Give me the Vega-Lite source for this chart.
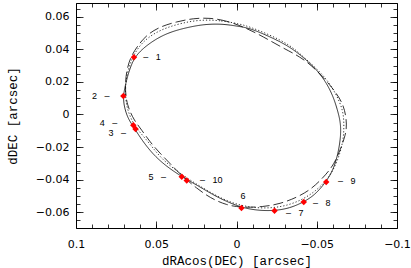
{
  "$schema": "https://vega.github.io/schema/vega-lite/v6.json",
  "width": 321,
  "height": 225,
  "autosize": {"type": "none"},
  "padding": {"left": 76, "top": 3, "right": 14, "bottom": 40},
  "background": "white",
  "config": {
    "view": {"stroke": "black", "strokeWidth": 1},
    "axis": {
      "grid": false, "domain": false, "tickColor": "black", "tickWidth": 0.8,
      "labelColor": "black", "labelFont": "DejaVu Sans", "labelFontSize": 11,
      "titleFont": "Liberation Mono", "titleFontSize": 12.5, "titleFontWeight": "normal", "titleColor": "black",
      "labelFlush": false, "labelOverlap": false
    }
  },
  "datasets": {
    "curves": [
      {"c":"solid","i":0,"x":-0.0022,"y":0.0539},{"c":"solid","i":1,"x":0.0040,"y":0.0549},{"c":"solid","i":2,"x":0.0103,"y":0.0555},{"c":"solid","i":3,"x":0.0165,"y":0.0554},{"c":"solid","i":4,"x":0.0227,"y":0.0549},{"c":"solid","i":5,"x":0.0331,"y":0.0529},{"c":"solid","i":6,"x":0.0435,"y":0.0498},{"c":"solid","i":7,"x":0.0518,"y":0.0453},{"c":"solid","i":8,"x":0.0581,"y":0.0406},{"c":"solid","i":9,"x":0.0622,"y":0.0365},{"c":"solid","i":10,"x":0.0653,"y":0.0314},{"c":"solid","i":11,"x":0.0680,"y":0.0232},{"c":"solid","i":12,"x":0.0699,"y":0.0150},{"c":"solid","i":13,"x":0.0705,"y":0.0107},{"c":"solid","i":14,"x":0.0701,"y":0.0058},{"c":"solid","i":15,"x":0.0688,"y":0.0009},{"c":"solid","i":16,"x":0.0670,"y":-0.0034},{"c":"solid","i":17,"x":0.0643,"y":-0.0074},{"c":"solid","i":18,"x":0.0591,"y":-0.0156},{"c":"solid","i":19,"x":0.0518,"y":-0.0248},{"c":"solid","i":20,"x":0.0435,"y":-0.0320},{"c":"solid","i":21,"x":0.0341,"y":-0.0382},{"c":"solid","i":22,"x":0.0248,"y":-0.0433},{"c":"solid","i":23,"x":0.0145,"y":-0.0494},{"c":"solid","i":24,"x":0.0061,"y":-0.0535},{"c":"solid","i":25,"x":-0.0032,"y":-0.0571},{"c":"solid","i":26,"x":-0.0126,"y":-0.0589},{"c":"solid","i":27,"x":-0.0236,"y":-0.0592},{"c":"solid","i":28,"x":-0.0333,"y":-0.0575},{"c":"solid","i":29,"x":-0.0416,"y":-0.0539},{"c":"solid","i":30,"x":-0.0489,"y":-0.0494},{"c":"solid","i":31,"x":-0.0558,"y":-0.0414},{"c":"solid","i":32,"x":-0.0603,"y":-0.0340},{"c":"solid","i":33,"x":-0.0634,"y":-0.0238},{"c":"solid","i":34,"x":-0.0651,"y":-0.0126},{"c":"solid","i":35,"x":-0.0648,"y":-0.0046},{"c":"solid","i":36,"x":-0.0629,"y":0.0028},{"c":"solid","i":37,"x":-0.0603,"y":0.0109},{"c":"solid","i":38,"x":-0.0562,"y":0.0191},{"c":"solid","i":39,"x":-0.0510,"y":0.0263},{"c":"solid","i":40,"x":-0.0437,"y":0.0334},{"c":"solid","i":41,"x":-0.0333,"y":0.0416},{"c":"solid","i":42,"x":-0.0209,"y":0.0477},{"c":"solid","i":43,"x":-0.0084,"y":0.0529},
      {"c":"dashed","i":0,"x":-0.0053,"y":0.0534},{"c":"dashed","i":1,"x":0.0061,"y":0.0575},{"c":"dashed","i":2,"x":0.0165,"y":0.0593},{"c":"dashed","i":3,"x":0.0269,"y":0.0590},{"c":"dashed","i":4,"x":0.0373,"y":0.0569},{"c":"dashed","i":5,"x":0.0477,"y":0.0539},{"c":"dashed","i":6,"x":0.0560,"y":0.0488},{"c":"dashed","i":7,"x":0.0612,"y":0.0426},{"c":"dashed","i":8,"x":0.0653,"y":0.0365},{"c":"dashed","i":9,"x":0.0680,"y":0.0293},{"c":"dashed","i":10,"x":0.0695,"y":0.0191},{"c":"dashed","i":11,"x":0.0688,"y":0.0089},{"c":"dashed","i":12,"x":0.0668,"y":0.0028},{"c":"dashed","i":13,"x":0.0639,"y":-0.0034},{"c":"dashed","i":14,"x":0.0591,"y":-0.0095},{"c":"dashed","i":15,"x":0.0539,"y":-0.0169},{"c":"dashed","i":16,"x":0.0477,"y":-0.0238},{"c":"dashed","i":17,"x":0.0414,"y":-0.0301},{"c":"dashed","i":18,"x":0.0341,"y":-0.0377},{"c":"dashed","i":19,"x":0.0248,"y":-0.0453},{"c":"dashed","i":20,"x":0.0165,"y":-0.0512},{"c":"dashed","i":21,"x":0.0061,"y":-0.0558},{"c":"dashed","i":22,"x":-0.0042,"y":-0.0572},{"c":"dashed","i":23,"x":-0.0167,"y":-0.0567},{"c":"dashed","i":24,"x":-0.0271,"y":-0.0549},{"c":"dashed","i":25,"x":-0.0377,"y":-0.0509},{"c":"dashed","i":26,"x":-0.0458,"y":-0.0463},{"c":"dashed","i":27,"x":-0.0520,"y":-0.0408},{"c":"dashed","i":28,"x":-0.0583,"y":-0.0340},{"c":"dashed","i":29,"x":-0.0620,"y":-0.0279},{"c":"dashed","i":30,"x":-0.0651,"y":-0.0206},{"c":"dashed","i":31,"x":-0.0679,"y":-0.0126},{"c":"dashed","i":32,"x":-0.0688,"y":-0.0064},{"c":"dashed","i":33,"x":-0.0676,"y":0.0028},{"c":"dashed","i":34,"x":-0.0645,"y":0.0099},{"c":"dashed","i":35,"x":-0.0583,"y":0.0181},{"c":"dashed","i":36,"x":-0.0489,"y":0.0283},{"c":"dashed","i":37,"x":-0.0396,"y":0.0355},{"c":"dashed","i":38,"x":-0.0292,"y":0.0406},{"c":"dashed","i":39,"x":-0.0167,"y":0.0477},
      {"c":"dotted","i":0,"x":-0.0022,"y":0.0555},{"c":"dotted","i":1,"x":0.0103,"y":0.0578},{"c":"dotted","i":2,"x":0.0227,"y":0.0581},{"c":"dotted","i":3,"x":0.0331,"y":0.0563},{"c":"dotted","i":4,"x":0.0435,"y":0.0534},{"c":"dotted","i":5,"x":0.0520,"y":0.0494},{"c":"dotted","i":6,"x":0.0583,"y":0.0445},{"c":"dotted","i":7,"x":0.0626,"y":0.0390},{"c":"dotted","i":8,"x":0.0657,"y":0.0328},{"c":"dotted","i":9,"x":0.0679,"y":0.0261},{"c":"dotted","i":10,"x":0.0692,"y":0.0181},{"c":"dotted","i":11,"x":0.0692,"y":0.0107},{"c":"dotted","i":12,"x":0.0682,"y":0.0040},{"c":"dotted","i":13,"x":0.0660,"y":-0.0021},{"c":"dotted","i":14,"x":0.0626,"y":-0.0083},{"c":"dotted","i":15,"x":0.0560,"y":-0.0156},{"c":"dotted","i":16,"x":0.0502,"y":-0.0230},{"c":"dotted","i":17,"x":0.0445,"y":-0.0291},{"c":"dotted","i":18,"x":0.0364,"y":-0.0353},{"c":"dotted","i":19,"x":0.0277,"y":-0.0411},{"c":"dotted","i":20,"x":0.0184,"y":-0.0466},{"c":"dotted","i":21,"x":0.0090,"y":-0.0518},{"c":"dotted","i":22,"x":-0.0009,"y":-0.0555},{"c":"dotted","i":23,"x":-0.0115,"y":-0.0574},{"c":"dotted","i":24,"x":-0.0221,"y":-0.0575},{"c":"dotted","i":25,"x":-0.0321,"y":-0.0558},{"c":"dotted","i":26,"x":-0.0414,"y":-0.0521},{"c":"dotted","i":27,"x":-0.0495,"y":-0.0469},{"c":"dotted","i":28,"x":-0.0564,"y":-0.0402},{"c":"dotted","i":29,"x":-0.0614,"y":-0.0322},{"c":"dotted","i":30,"x":-0.0648,"y":-0.0230},{"c":"dotted","i":31,"x":-0.0667,"y":-0.0144},{"c":"dotted","i":32,"x":-0.0670,"y":-0.0064},{"c":"dotted","i":33,"x":-0.0665,"y":0.0028},{"c":"dotted","i":34,"x":-0.0614,"y":0.0138},{"c":"dotted","i":35,"x":-0.0564,"y":0.0212},{"c":"dotted","i":36,"x":-0.0508,"y":0.0273},{"c":"dotted","i":37,"x":-0.0408,"y":0.0362},{"c":"dotted","i":38,"x":-0.0333,"y":0.0426},{"c":"dotted","i":39,"x":-0.0209,"y":0.0488},{"c":"dotted","i":40,"x":-0.0084,"y":0.0537}
    ],
    "pts": [
      {"n":1,"x":0.0639,"y":0.0351,"lx":0.0581,"ly":0.0351,"t":"\u2013\u00a0\u00a0\u00a01"},
      {"n":2,"x":0.0705,"y":0.0113,"lx":0.0791,"ly":0.0113,"t":"2\u00a0\u00a0\u00a0\u2013"},
      {"n":3,"x":0.0629,"y":-0.0089,"lx":0.0688,"ly":-0.0115,"t":"3\u00a0\u00a0\u00a0\u2013"},
      {"n":4,"x":0.0643,"y":-0.0066,"lx":0.0743,"ly":-0.0054,"t":"4\u00a0\u00a0\u00a0\u2013"},
      {"n":5,"x":0.0341,"y":-0.0382,"lx":0.0439,"ly":-0.0382,"t":"5\u00a0\u00a0\u00a0\u2013"},
      {"n":6,"x":-0.0031,"y":-0.0574,"lx":-0.0040,"ly":-0.0502,"t":"6"},
      {"n":7,"x":-0.0237,"y":-0.0591,"lx":-0.0308,"ly":-0.0602,"t":"\u2013\u00a0\u00a0\u00a07"},
      {"n":8,"x":-0.0419,"y":-0.0538,"lx":-0.0477,"ly":-0.0541,"t":"\u2013\u00a0\u00a0\u00a08"},
      {"n":9,"x":-0.0559,"y":-0.0414,"lx":-0.0632,"ly":-0.0410,"t":"\u2013\u00a0\u00a0\u00a09"},
      {"n":10,"x":0.0310,"y":-0.0406,"lx":0.0227,"ly":-0.0402,"t":"\u2013\u00a0\u00a0\u00a010"}
    ]
  },
  "layer": [
    {
      "data": {"name": "pts"},
      "mark": {"type": "point", "opacity": 0},
      "encoding": {
        "x": {"field": "x", "type": "quantitative", "scale": {"domain": [-0.1, 0.1], "reverse": true, "nice": false, "zero": false},
          "axis": {"orient": "bottom", "values": [0.1, 0.05, 0, -0.05, -0.1], "tickSize": -7, "labelPadding": 17, "format": "~g", "title": "dRAcos(DEC) [arcsec]", "titlePadding": 5}},
        "y": {"field": "y", "type": "quantitative", "scale": {"domain": [-0.0697, 0.0684], "nice": false, "zero": false},
          "axis": {"orient": "left", "values": [-0.06, -0.04, -0.02, 0, 0.02, 0.04, 0.06], "tickSize": -7, "labelPadding": 14, "format": "~g", "title": "dDEC [arcsec]", "titlePadding": 16}}
      }
    },
    {
      "data": {"name": "pts"},
      "mark": {"type": "point", "opacity": 0},
      "encoding": {
        "x": {"field": "x", "type": "quantitative", "scale": {"domain": [-0.1, 0.1], "reverse": true, "nice": false, "zero": false},
          "axis": {"orient": "bottom", "values": [-0.1,-0.09,-0.08,-0.07,-0.06,-0.05,-0.04,-0.03,-0.02,-0.01,0,0.01,0.02,0.03,0.04,0.05,0.06,0.07,0.08,0.09,0.1], "tickSize": -4, "labels": false, "title": null}},
        "y": {"field": "y", "type": "quantitative", "scale": {"domain": [-0.0697, 0.0684], "nice": false, "zero": false},
          "axis": {"orient": "left", "values": [-0.065,-0.06,-0.055,-0.05,-0.045,-0.04,-0.035,-0.03,-0.025,-0.02,-0.015,-0.01,-0.005,0,0.005,0.01,0.015,0.02,0.025,0.03,0.035,0.04,0.045,0.05,0.055,0.06,0.065], "tickSize": -4, "labels": false, "title": null}}
      }
    },
    {
      "data": {"name": "pts"},
      "mark": {"type": "point", "opacity": 0},
      "encoding": {
        "x": {"field": "x", "type": "quantitative", "scale": {"domain": [-0.1, 0.1], "reverse": true, "nice": false, "zero": false},
          "axis": {"orient": "top", "values": [0.1, 0.05, 0, -0.05, -0.1], "tickSize": -7, "labels": false, "title": null}},
        "y": {"field": "y", "type": "quantitative", "scale": {"domain": [-0.0697, 0.0684], "nice": false, "zero": false},
          "axis": {"orient": "right", "values": [-0.06, -0.04, -0.02, 0, 0.02, 0.04, 0.06], "tickSize": -7, "labels": false, "title": null}}
      }
    },
    {
      "data": {"name": "pts"},
      "mark": {"type": "point", "opacity": 0},
      "encoding": {
        "x": {"field": "x", "type": "quantitative", "scale": {"domain": [-0.1, 0.1], "reverse": true, "nice": false, "zero": false},
          "axis": {"orient": "top", "values": [-0.1,-0.09,-0.08,-0.07,-0.06,-0.05,-0.04,-0.03,-0.02,-0.01,0,0.01,0.02,0.03,0.04,0.05,0.06,0.07,0.08,0.09,0.1], "tickSize": -4, "labels": false, "title": null}},
        "y": {"field": "y", "type": "quantitative", "scale": {"domain": [-0.0697, 0.0684], "nice": false, "zero": false},
          "axis": {"orient": "right", "values": [-0.065,-0.06,-0.055,-0.05,-0.045,-0.04,-0.035,-0.03,-0.025,-0.02,-0.015,-0.01,-0.005,0,0.005,0.01,0.015,0.02,0.025,0.03,0.035,0.04,0.045,0.05,0.055,0.06,0.065], "tickSize": -4, "labels": false, "title": null}}
      }
    },
    {
      "data": {"name": "curves"},
      "mark": {"type": "line", "interpolate": "basis-closed", "strokeWidth": 0.8, "color": "black"},
      "encoding": {
        "x": {"field": "x", "type": "quantitative", "scale": {"domain": [-0.1, 0.1], "reverse": true, "nice": false, "zero": false}, "axis": null},
        "y": {"field": "y", "type": "quantitative", "scale": {"domain": [-0.0697, 0.0684], "nice": false, "zero": false}, "axis": null},
        "detail": {"field": "c"},
        "order": {"field": "i", "type": "quantitative"},
        "strokeDash": {"field": "c", "type": "nominal", "legend": null, "scale": {"domain": ["solid", "dashed", "dotted"], "range": [[1, 0], [10, 4], [1.2, 2]]}}
      }
    },
    {
      "data": {"name": "pts"},
      "mark": {"type": "point", "shape": "diamond", "filled": true, "size": 42, "color": "#ff0000", "opacity": 1},
      "encoding": {
        "x": {"field": "x", "type": "quantitative", "scale": {"domain": [-0.1, 0.1], "reverse": true, "nice": false, "zero": false}, "axis": null},
        "y": {"field": "y", "type": "quantitative", "scale": {"domain": [-0.0697, 0.0684], "nice": false, "zero": false}, "axis": null}
      }
    },
    {
      "data": {"name": "pts"},
      "transform": [{"filter": "datum.n == 1 || datum.n >= 7"}],
      "mark": {"type": "text", "align": "left", "baseline": "middle", "font": "Liberation Sans", "fontSize": 9, "color": "black"},
      "encoding": {
        "x": {"field": "lx", "type": "quantitative", "scale": {"domain": [-0.1, 0.1], "reverse": true, "nice": false, "zero": false}, "axis": null},
        "y": {"field": "ly", "type": "quantitative", "scale": {"domain": [-0.0697, 0.0684], "nice": false, "zero": false}, "axis": null},
        "text": {"field": "t"}
      }
    },
    {
      "data": {"name": "pts"},
      "transform": [{"filter": "datum.n >= 2 && datum.n <= 5"}],
      "mark": {"type": "text", "align": "right", "baseline": "middle", "font": "Liberation Sans", "fontSize": 9, "color": "black"},
      "encoding": {
        "x": {"field": "lx", "type": "quantitative", "scale": {"domain": [-0.1, 0.1], "reverse": true, "nice": false, "zero": false}, "axis": null},
        "y": {"field": "ly", "type": "quantitative", "scale": {"domain": [-0.0697, 0.0684], "nice": false, "zero": false}, "axis": null},
        "text": {"field": "t"}
      }
    },
    {
      "data": {"name": "pts"},
      "transform": [{"filter": "datum.n == 6"}],
      "mark": {"type": "text", "align": "center", "baseline": "middle", "font": "Liberation Sans", "fontSize": 9, "color": "black"},
      "encoding": {
        "x": {"field": "lx", "type": "quantitative", "scale": {"domain": [-0.1, 0.1], "reverse": true, "nice": false, "zero": false}, "axis": null},
        "y": {"field": "ly", "type": "quantitative", "scale": {"domain": [-0.0697, 0.0684], "nice": false, "zero": false}, "axis": null},
        "text": {"field": "t"}
      }
    }
  ],
  "resolve": {"axis": {"x": "independent", "y": "independent"}}
}
